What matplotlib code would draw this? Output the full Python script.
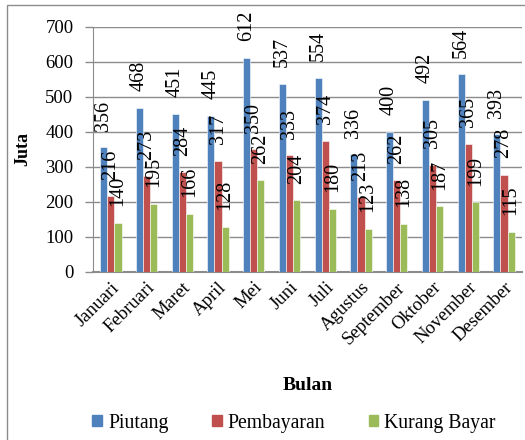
import matplotlib
matplotlib.use("Agg")
import matplotlib.pyplot as plt
from matplotlib.patches import Rectangle
import numpy as np

months = ["Januari", "Februari", "Maret", "April", "Mei", "Juni", "Juli",
          "Agustus", "September", "Oktober", "November", "Desember"]
piutang = [356, 468, 451, 445, 612, 537, 554, 336, 400, 492, 564, 393]
pembayaran = [216, 273, 284, 317, 350, 333, 374, 213, 262, 305, 365, 278]
kurang_bayar = [140, 195, 166, 128, 262, 204, 180, 123, 138, 187, 199, 115]
series_names = ["Piutang", "Pembayaran", "Kurang Bayar"]
y_ticks = [0, 100, 200, 300, 400, 500, 600, 700]

colors = ["#4F81BD", "#C0504D", "#9BBB59"]

plt.rcParams["font.family"] = ["Liberation Serif", "DejaVu Serif"]

fig = plt.figure(figsize=(5.25, 4.4), dpi=100)
ax = fig.add_axes([0.177, 0.382, 0.817, 0.557])

# thin frame around the chart area
fig.patches.append(Rectangle((7 / 525, -0.01), 1.1, 1 - 5 / 440 + 0.01,
                             transform=fig.transFigure, fill=False,
                             edgecolor="#8c8c8c", linewidth=1.0))

x = np.arange(len(months))
w = 0.2
for i, (vals, name) in enumerate(zip([piutang, pembayaran, kurang_bayar], series_names)):
    pos = x + (i - 1) * w
    bars = ax.bar(pos, vals, width=w, color=colors[i], edgecolor="white",
                  linewidth=0.4, label=name, zorder=3)
    for b, v in zip(bars, vals):
        ax.annotate(str(v), (b.get_x() + b.get_width() / 2, v),
                    xytext=(0, 12), textcoords="offset points", rotation=90,
                    ha="center", va="bottom", fontsize=14.5, zorder=4,
                    annotation_clip=False)

ax.set_ylim(0, 700)
ax.set_yticks(y_ticks)
ax.set_xlim(-0.5, len(months) - 0.5)
ax.set_xticks(x)
ax.set_xticklabels(months, rotation=45, ha="right", rotation_mode="anchor",
                   fontsize=13.5)
ax.tick_params(axis="y", labelsize=13.5, length=6, width=1, color="#8c8c8c",
               direction="out", pad=8)
ax.tick_params(axis="x", length=0, pad=5)
ax.yaxis.grid(True, color="#8c8c8c", linewidth=1.0, zorder=0)
ax.set_axisbelow(True)
for s in ["top", "right"]:
    ax.spines[s].set_visible(False)
ax.spines["left"].set_color("#8c8c8c")
ax.spines["bottom"].set_color("#8c8c8c")
ax.spines["bottom"].set_linewidth(1.5)

ax.set_ylabel("Juta", fontsize=13, fontweight="bold", va="center")
ax.yaxis.set_label_coords(-0.163, 0.5)
ax.set_xlabel("Bulan", fontsize=14, fontweight="bold", va="center")
ax.xaxis.set_label_coords(0.5, -0.465)

handles = [Rectangle((0, 0), 1, 1, color=c) for c in colors]
fig.legend(handles, series_names, loc="center", bbox_to_anchor=(0.56, 0.038),
           ncol=3, frameon=False, fontsize=14.2, handlelength=0.5,
           handleheight=0.5, handletextpad=0.3, columnspacing=2.2)

fig.savefig("out.png", dpi=100)
